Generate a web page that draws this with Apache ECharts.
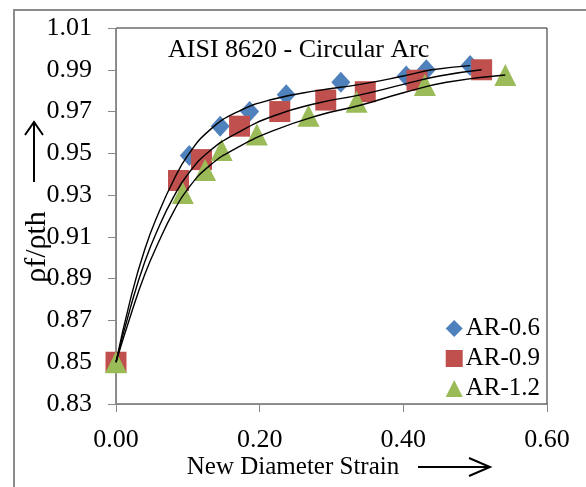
<!DOCTYPE html>
<html><head><meta charset="utf-8">
<script src="https://cdn.jsdelivr.net/npm/echarts@6/dist/echarts.min.js"></script>
<style>html,body{margin:0;padding:0;background:#fff}#c{width:586px;height:487px}</style>
</head><body><div id="c"></div>
<script>
// Tick labels
const xTicks = [0, 0.2, 0.4, 0.6];
const yTicks = [0.83, 0.85, 0.87, 0.89, 0.91, 0.93, 0.95, 0.97, 0.99, 1.01];
// Measured points
const strainAR06 = [0, 0.102, 0.145, 0.186, 0.237, 0.313, 0.404, 0.432, 0.493];
const densAR06   = [0.85, 0.949, 0.963, 0.970, 0.978, 0.984, 0.987, 0.990, 0.992];
const strainAR09 = [0, 0.087, 0.119, 0.172, 0.228, 0.292, 0.347, 0.419, 0.509];
const densAR09   = [0.85, 0.937, 0.947, 0.963, 0.970, 0.9755, 0.9795, 0.985, 0.990];
const strainAR12 = [0, 0.093, 0.124, 0.147, 0.196, 0.268, 0.335, 0.430, 0.542];
const densAR12   = [0.85, 0.931, 0.942, 0.9516, 0.959, 0.968, 0.9747, 0.9827, 0.9875];
// Fitted curves
const fitStrainAR06 = [0, 0.02, 0.04, 0.06, 0.08, 0.10, 0.13, 0.17, 0.22, 0.28, 0.34, 0.40, 0.44, 0.493];
const fitDensAR06   = [0.85, 0.880, 0.904, 0.922, 0.937, 0.949, 0.961, 0.970, 0.976, 0.980, 0.983, 0.987, 0.990, 0.992];
const fitStrainAR09 = [0, 0.02, 0.04, 0.06, 0.08, 0.10, 0.13, 0.17, 0.22, 0.28, 0.34, 0.40, 0.45, 0.509];
const fitDensAR09   = [0.85, 0.876, 0.898, 0.915, 0.929, 0.940, 0.951, 0.960, 0.968, 0.974, 0.978, 0.983, 0.987, 0.990];
const fitStrainAR12 = [0, 0.02, 0.04, 0.06, 0.08, 0.10, 0.13, 0.17, 0.22, 0.28, 0.34, 0.40, 0.46, 0.542];
const fitDensAR12   = [0.85, 0.872, 0.892, 0.908, 0.922, 0.933, 0.944, 0.953, 0.961, 0.968, 0.973, 0.979, 0.984, 0.9875];

const seriesNames = ['AR-0.6', 'AR-0.9', 'AR-1.2'];
const colors = ['#4F81BD', '#C0504D', '#9BBB59'];
const FONT = '"Liberation Serif", "Times New Roman", serif';

const zip = (a, b) => a.map((v, i) => [v, b[i]]);

const chart = echarts.init(document.getElementById('c'), null, {renderer: 'canvas'});
const scatter = (name, xs, ys, symbol, size, color) => ({
  name, type: 'scatter', data: zip(xs, ys), symbol, symbolSize: size,
  itemStyle: {color, opacity: 1}, z: 2
});
const fit = (xs, ys) => ({
  type: 'line', data: zip(xs, ys), smooth: 0.5, showSymbol: false, symbol: 'none',
  lineStyle: {color: '#000', width: 1.4}, z: 5, silent: true
});

chart.setOption({
  animation: false,
  backgroundColor: '#fff',
  title: {
    text: 'AISI 8620 - Circular Arc', left: 168, top: 37, padding: 0,
    textStyle: {fontFamily: FONT, fontSize: 26, fontWeight: 'normal', color: '#000'}
  },
  grid: {left: 116, top: 28, right: 39, bottom: 83, show: true, borderColor: '#222', borderWidth: 1, backgroundColor: 'transparent'},
  legend: {
    data: seriesNames, orient: 'vertical', right: 41, top: 311, itemGap: 5,
    itemWidth: 17, itemHeight: 17, align: 'left',
    textStyle: {fontFamily: FONT, fontSize: 25, color: '#000', lineHeight: 25, padding: [0, 0, 0, -2]}
  },
  xAxis: {
    type: 'value', min: xTicks[0], max: xTicks[xTicks.length - 1], interval: 0.2,
    axisLine: {show: true, lineStyle: {color: '#888', width: 1}},
    axisTick: {show: true, length: 8, lineStyle: {color: '#888'}},
    splitLine: {show: false},
    axisLabel: {margin: 23, fontFamily: FONT, fontSize: 26, color: '#000', formatter: v => v.toFixed(2)}
  },
  yAxis: {
    type: 'value', min: yTicks[0], max: yTicks[yTicks.length - 1], interval: 0.02,
    axisLine: {show: true, lineStyle: {color: '#888', width: 1}},
    axisTick: {show: true, length: 8, lineStyle: {color: '#888'}, customValues: yTicks},
    splitLine: {show: false},
    axisLabel: {margin: 24, fontFamily: FONT, fontSize: 26, color: '#000', customValues: yTicks, formatter: v => v.toFixed(2)}
  },
  series: [
    scatter(seriesNames[0], strainAR06, densAR06, 'diamond', [19, 21], colors[0]),
    scatter(seriesNames[1], strainAR09, densAR09, 'rect', 21, colors[1]),
    scatter(seriesNames[2], strainAR12, densAR12, 'triangle', 22, colors[2]),
    fit(fitStrainAR06, fitDensAR06),
    fit(fitStrainAR09, fitDensAR09),
    fit(fitStrainAR12, fitDensAR12)
  ],
  graphic: [
    {type: 'rect', shape: {x: 14, y: 10, width: 620, height: 520}, style: {fill: null, stroke: '#8c8c8c', lineWidth: 2}, silent: true, z: 0},
    {type: 'text', x: 37, y: 247, rotation: Math.PI / 2,
      style: {text: 'ρf/ρth', font: '30px ' + FONT, fill: '#000', textAlign: 'center', textVerticalAlign: 'middle'}},
    {type: 'line', shape: {x1: 34, y1: 182, x2: 34, y2: 122}, style: {stroke: '#000', lineWidth: 2}},
    {type: 'polyline', shape: {points: [[25, 135], [34, 122], [43, 135]]}, style: {stroke: '#000', lineWidth: 2, fill: null}},
    {type: 'text', x: 293, y: 467,
      style: {text: 'New Diameter Strain', font: '25px ' + FONT, fill: '#000', textAlign: 'center', textVerticalAlign: 'middle'}},
    {type: 'line', shape: {x1: 418, y1: 467, x2: 489, y2: 467}, style: {stroke: '#000', lineWidth: 2}},
    {type: 'polyline', shape: {points: [[469, 458], [490, 467], [469, 476]]}, style: {stroke: '#000', lineWidth: 2, fill: null}}
  ]
});
</script>
</body></html>
